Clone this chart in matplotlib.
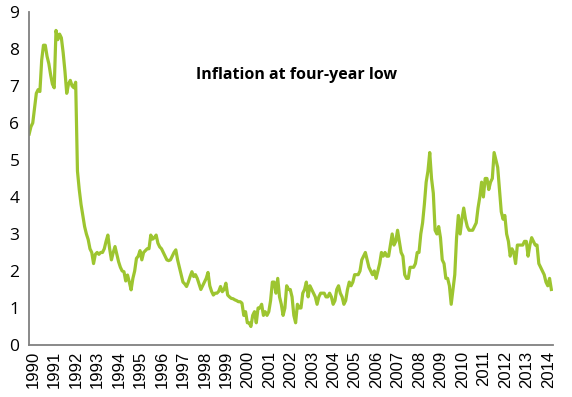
import matplotlib
matplotlib.use("Agg")
import matplotlib.pyplot as plt
import matplotlib.transforms as mtransforms
import numpy as np

# UK CPI annual inflation, % (monthly, Jan 1990 - May 2014)
cpi_1990 = [5.7, 5.9, 6.0, 6.4, 6.8, 6.9, 6.85, 7.7, 8.1, 8.1, 7.8, 7.6]
cpi_1991 = [7.3, 7.05, 6.95, 8.5, 8.25, 8.4, 8.3, 7.9, 7.4, 6.8, 7.05, 7.15]
cpi_1992 = [7.0, 6.95, 7.1, 4.7, 4.2, 3.8, 3.5, 3.2, 3.0, 2.85, 2.6, 2.5]
cpi_1993 = [2.2, 2.45, 2.5, 2.45, 2.5, 2.5, 2.6, 2.8, 2.97, 2.6, 2.3, 2.5]
cpi_1994 = [2.66, 2.45, 2.25, 2.1, 2.0, 1.98, 1.73, 1.89, 1.7, 1.49, 1.8, 2.0]
cpi_1995 = [2.34, 2.4, 2.55, 2.3, 2.5, 2.55, 2.6, 2.6, 2.97, 2.86, 2.9, 2.97]
cpi_1996 = [2.75, 2.65, 2.6, 2.5, 2.4, 2.3, 2.28, 2.3, 2.4, 2.5, 2.57, 2.3]
cpi_1997 = [2.1, 1.9, 1.7, 1.65, 1.58, 1.7, 1.85, 1.98, 1.85, 1.9, 1.8, 1.65]
cpi_1998 = [1.5, 1.6, 1.7, 1.8, 1.96, 1.6, 1.45, 1.35, 1.4, 1.4, 1.45, 1.58]
cpi_1999 = [1.44, 1.5, 1.67, 1.35, 1.3, 1.26, 1.25, 1.22, 1.2, 1.17, 1.17, 1.13]
cpi_2000 = [0.8, 0.9, 0.6, 0.6, 0.5, 0.8, 0.9, 0.6, 1.0, 1.0, 1.1, 0.8]
cpi_2001 = [0.9, 0.8, 0.9, 1.2, 1.7, 1.7, 1.4, 1.8, 1.3, 1.1, 0.8, 1.0]
cpi_2002 = [1.6, 1.5, 1.5, 1.3, 0.8, 0.6, 1.1, 1.0, 1.0, 1.4, 1.5, 1.7]
cpi_2003 = [1.3, 1.6, 1.5, 1.4, 1.3, 1.1, 1.3, 1.4, 1.4, 1.4, 1.3, 1.3]
cpi_2004 = [1.4, 1.3, 1.1, 1.2, 1.5, 1.6, 1.4, 1.3, 1.1, 1.2, 1.5, 1.7]
cpi_2005 = [1.6, 1.7, 1.9, 1.9, 1.9, 2.0, 2.3, 2.4, 2.5, 2.3, 2.1, 2.0]
cpi_2006 = [1.9, 2.0, 1.8, 2.0, 2.2, 2.5, 2.4, 2.5, 2.4, 2.4, 2.7, 3.0]
cpi_2007 = [2.7, 2.8, 3.1, 2.8, 2.5, 2.4, 1.9, 1.8, 1.8, 2.1, 2.1, 2.1]
cpi_2008 = [2.2, 2.5, 2.5, 3.0, 3.3, 3.8, 4.4, 4.7, 5.2, 4.5, 4.1, 3.1]
cpi_2009 = [3.0, 3.2, 2.9, 2.3, 2.2, 1.8, 1.8, 1.6, 1.1, 1.5, 1.9, 2.9]
cpi_2010 = [3.5, 3.0, 3.4, 3.7, 3.4, 3.2, 3.1, 3.1, 3.1, 3.2, 3.3, 3.7]
cpi_2011 = [4.0, 4.4, 4.0, 4.5, 4.5, 4.2, 4.4, 4.5, 5.2, 5.0, 4.8, 4.2]
cpi_2012 = [3.6, 3.4, 3.5, 3.0, 2.8, 2.4, 2.6, 2.5, 2.2, 2.7, 2.7, 2.7]
cpi_2013 = [2.7, 2.8, 2.8, 2.4, 2.7, 2.9, 2.8, 2.7, 2.7, 2.2, 2.1, 2.0]
cpi_2014 = [1.9, 1.7, 1.6, 1.8, 1.5]

years = list(range(1990, 2015))
cpi = (cpi_1990 + cpi_1991 + cpi_1992 + cpi_1993 + cpi_1994 + cpi_1995
       + cpi_1996 + cpi_1997 + cpi_1998 + cpi_1999 + cpi_2000 + cpi_2001
       + cpi_2002 + cpi_2003 + cpi_2004 + cpi_2005 + cpi_2006 + cpi_2007
       + cpi_2008 + cpi_2009 + cpi_2010 + cpi_2011 + cpi_2012 + cpi_2013
       + cpi_2014)

plt.rcParams['font.family'] = ['Open Sans', 'DejaVu Sans']

fig = plt.figure(figsize=(5.72, 3.97), dpi=100)
ax = fig.add_axes([0.051, 0.131, 0.916, 0.839])

months = np.arange(len(cpi))
ax.plot(months, cpi, color='#9dc530', lw=2.3, solid_joinstyle='round')

ax.set_xlim(0, len(cpi))
ax.set_ylim(0, 9)
ax.set_yticks(range(0, 10))
ax.set_xticks(np.arange(0, len(cpi), 12))
ax.set_xticklabels([str(y) for y in years], rotation=90, fontsize=12,
                   family='Liberation Sans')
ax.tick_params(axis='y', labelsize=12.5, length=0, pad=7)
ax.tick_params(axis='x', length=0, pad=4)

# nudge the year labels a little to the right
shift = mtransforms.ScaledTranslation(4 / 100, 0, fig.dpi_scale_trans)
for lab in ax.get_xticklabels():
    lab.set_transform(lab.get_transform() + shift)

for side in ['top', 'right']:
    ax.spines[side].set_visible(False)
for side in ['left', 'bottom']:
    ax.spines[side].set_color('#808080')
    ax.spines[side].set_linewidth(1.3)

ax.text(0.51, 0.81, 'Inflation at four-year low', transform=ax.transAxes,
        ha='center', va='center', fontsize=11.5, fontweight='bold')

fig.savefig('out.png', dpi=100)
